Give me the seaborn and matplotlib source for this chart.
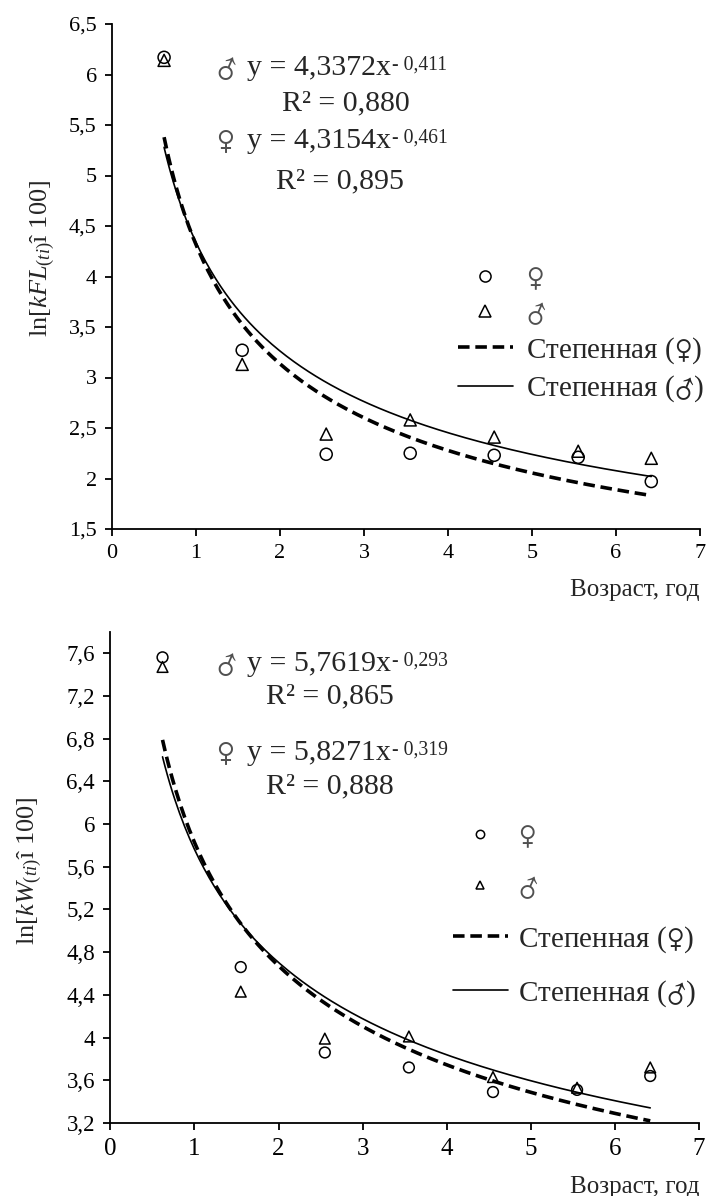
import numpy as np
import matplotlib
matplotlib.use('Agg')
import matplotlib.pyplot as plt
import seaborn as sns
from matplotlib.lines import Line2D
from matplotlib.font_manager import FontProperties

# ---------------- data ----------------
age = [0.62, 1.55, 2.55, 3.55, 4.55, 5.55, 6.42]

# upper panel: ln[kFL(ti) x 100]
fl_female = [6.17, 3.27, 2.24, 2.25, 2.23, 2.21, 1.97]
fl_male = [6.14, 3.13, 2.44, 2.58, 2.41, 2.27, 2.20]
fl_fit_female = (4.3154, -0.461)
fl_fit_male = (4.3372, -0.411)
fl_r2_female = '0,895'
fl_r2_male = '0,880'

# lower panel: ln[kW(ti) x 100]
w_female = [7.56, 4.66, 3.86, 3.72, 3.49, 3.51, 3.64]
w_male = [7.47, 4.43, 3.99, 4.01, 3.63, 3.53, 3.72]
w_fit_female = (5.8271, -0.319)
w_fit_male = (5.7619, -0.293)
w_r2_female = '0,888'
w_r2_male = '0,865'

x_ticks = [0, 1, 2, 3, 4, 5, 6, 7]
fl_ticks = [1.5, 2, 2.5, 3, 3.5, 4, 4.5, 5, 5.5, 6, 6.5]
fl_ticklabels = ['1,5', '2', '2,5', '3', '3,5', '4', '4,5', '5', '5,5', '6', '6,5']
w_ticks = [3.2, 3.6, 4, 4.4, 4.8, 5.2, 5.6, 6, 6.4, 6.8, 7.2, 7.6]
w_ticklabels = ['3,2', '3,6', '4', '4,4', '4,8', '5,2', '5,6', '6', '6,4', '6,8', '7,2', '7,6']

# the sex signs go through mathtext \mathsf (DejaVu Sans) so they come out full size
legend_labels = [r'$\mathsf{♀}$', r'$\mathsf{♂}$',
                 r'Степенная ($\mathsf{♀}$)', r'Степенная ($\mathsf{♂}$)']

# ---------------- style ----------------
sns.set_theme(style='ticks')
fonts = ['Liberation Serif', 'DejaVu Sans']
plt.rcParams['font.family'] = fonts
plt.rcParams['mathtext.fontset'] = 'custom'
plt.rcParams['mathtext.rm'] = 'Liberation Serif'
plt.rcParams['mathtext.it'] = 'Liberation Serif:italic'
plt.rcParams['mathtext.sf'] = 'DejaVu Sans:light'
plt.rcParams['axes.edgecolor'] = 'black'
plt.rcParams['xtick.color'] = 'black'
plt.rcParams['ytick.color'] = 'black'

W, H = 707, 1196
fig = plt.figure(figsize=(W / 100, H / 100), dpi=100)


def px(x, y):
    # pixel position -> figure fraction
    return x / W, 1 - y / H


ax1 = fig.add_axes([112 / W, 1 - 529 / H, 588 / W, 505 / H])
ax2 = fig.add_axes([110.4 / W, 1 - 1123 / H, 588.6 / W, 491.3 / H])


def draw_panel(ax, female, male, fit_f, fit_m, ms):
    xs = np.linspace(age[0], age[-1], 200)
    sns.lineplot(x=xs, y=fit_f[0] * xs ** fit_f[1], ax=ax, color='black',
                 linestyle=(0, (3.2, 1.6)), linewidth=2.6)
    sns.lineplot(x=xs, y=fit_m[0] * xs ** fit_m[1], ax=ax, color='black',
                 linewidth=1.2)
    ax.scatter(age, female, marker='o', s=ms, facecolors='none',
               edgecolors='black', linewidths=1.1, zorder=3)
    ax.scatter(age, male, marker='^', s=ms, facecolors='none',
               edgecolors='black', linewidths=1.1, zorder=3)
    ax.set_xlim(0, 7)
    ax.set_xticks(x_ticks)
    sns.despine(ax=ax)
    for sp in ax.spines.values():
        sp.set_linewidth(1.3)
    ax.tick_params(direction='out', length=5, width=1.3, pad=6)


draw_panel(ax1, fl_female, fl_male, fl_fit_female, fl_fit_male, 75)
ax1.set_ylim(1.5, 6.5)
ax1.set_yticks(fl_ticks)
ax1.set_yticklabels(fl_ticklabels)
ax1.tick_params(axis='both', labelsize=16)
ax1.set_xlabel('Возраст, год', loc='right', fontsize=18, labelpad=11)
ax1.set_ylabel(r'ln[$\mathit{kFL}_{\mathit{(ti)}}$î 100]', fontsize=19)
ax1.yaxis.set_label_coords(-0.094, 0.535)

draw_panel(ax2, w_female, w_male, w_fit_female, w_fit_male, 60)
ax2.set_ylim(3.2, 7.8)
ax2.set_yticks(w_ticks)
ax2.set_yticklabels(w_ticklabels)
ax2.tick_params(axis='y', labelsize=16.5)
ax2.tick_params(axis='x', labelsize=18)
ax2.set_xlabel('Возраст, год', loc='right', fontsize=18, labelpad=11)
ax2.set_ylabel(r'ln[$\mathit{kW}_{\mathit{(ti)}}$î 100]', fontsize=19)
ax2.yaxis.set_label_coords(-0.112, 0.513)


def equation(ax, sym, fit, r2, x0, y_base, y_r2, x_r2, size):
    fig.text(*px(x0, y_base + 1), r'$\mathsf{' + sym + '}$', fontsize=size,
             color='#505050', va='baseline', ha='left')
    a = f'{fit[0]:.4f}'.replace('.', ',')
    t = fig.text(*px(x0 + 31, y_base), f'y = {a}x', fontsize=size,
                 va='baseline', ha='left')
    exp = '- ' + f'{abs(fit[1]):.3f}'.replace('.', ',')
    ax.annotate(exp, xy=(1.0, 0.5), xycoords=t, xytext=(1, -1),
                textcoords='offset points', fontsize=size * 0.66,
                va='baseline', ha='left', annotation_clip=False)
    fig.text(*px(x_r2, y_r2), f'R² = {r2}', fontsize=size,
             va='baseline', ha='center')


equation(ax1, '♂', fl_fit_male, fl_r2_male, 216, 75, 110, 346, 21.5)
equation(ax1, '♀', fl_fit_female, fl_r2_female, 216, 148, 188, 340, 21.5)
equation(ax2, '♂', w_fit_male, w_r2_male, 216, 671, 703, 330, 21.5)
equation(ax2, '♀', w_fit_female, w_r2_female, 216, 760, 793, 330, 21.5)


# legends
def handles(ms):
    return [
        Line2D([], [], marker='o', ls='', mfc='none', mec='black', ms=ms, mew=1.1),
        Line2D([], [], marker='^', ls='', mfc='none', mec='black', ms=ms, mew=1.1),
        Line2D([], [], color='black', lw=2.6, ls=(0, (3.2, 1.6))),
        Line2D([], [], color='black', lw=1.2),
    ]


prop = FontProperties(family=fonts, size=21)
leg1 = ax1.legend(handles(8), legend_labels, prop=prop, frameon=False,
                  loc='upper right', bbox_to_anchor=px(704, 266),
                  bbox_transform=fig.transFigure, borderpad=0, borderaxespad=0,
                  handlelength=1.9, handletextpad=0.45, labelspacing=0.27)
leg2 = ax2.legend(handles(6), legend_labels, prop=prop, frameon=False,
                  loc='upper right', bbox_to_anchor=px(696, 824),
                  bbox_transform=fig.transFigure, borderpad=0, borderaxespad=0,
                  handlelength=1.9, handletextpad=0.35, labelspacing=0.8)
# the lone sign labels are drawn grey and thin in the original
for leg in (leg1, leg2):
    for txt in leg.get_texts()[:2]:
        txt.set_color('#505050')

fig.savefig('out.png', dpi=100)
